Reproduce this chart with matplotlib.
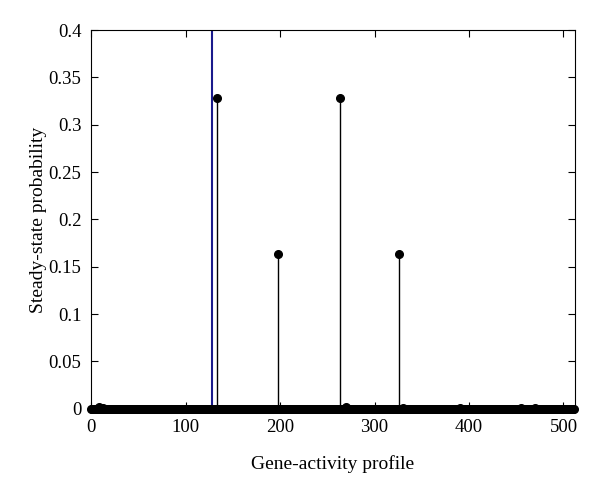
import numpy as np
import matplotlib
matplotlib.use("Agg")
import matplotlib.pyplot as plt

plt.rcParams['font.family'] = ['Liberation Serif', 'DejaVu Serif']

# gene-activity profiles 0..511, mostly zero probability
n_profiles = 512
peak_profiles = [133, 198, 263, 326]
peak_probs = [0.328, 0.164, 0.328, 0.164]
small_profiles = [8, 12, 270, 330, 390, 455, 470]
small_probs = [0.002, 0.001, 0.002, 0.001, 0.001, 0.001, 0.001]
marked_profile = 128

prob = np.zeros(n_profiles)
prob[small_profiles] = small_probs
prob[peak_profiles] = peak_probs
profiles = np.arange(n_profiles)

fig = plt.figure(figsize=(6, 4.92), dpi=100)
ax = fig.add_axes([0.152, 0.169, 0.806, 0.770])

ax.axvline(marked_profile, color='#1a1a8c', lw=1.5, zorder=1)
ml, sl, bl = ax.stem(profiles, prob, linefmt='k-', markerfmt='ko', basefmt=' ')
sl.set_linewidth(1.0)
ml.set_markersize(5.5)
ml.set_clip_on(False)

ax.set_xlim(0, 512)
ax.set_ylim(0, 0.4)
ax.set_xticks([0, 100, 200, 300, 400, 500])
ax.set_yticks([0, 0.05, 0.1, 0.15, 0.2, 0.25, 0.3, 0.35, 0.4])
ax.set_yticklabels(['0', '0.05', '0.1', '0.15', '0.2', '0.25', '0.3', '0.35', '0.4'])
ax.tick_params(direction='in', top=True, right=True, labelsize=13.5, length=5, pad=7)
ax.set_xlabel('Gene-activity profile', fontsize=14, labelpad=14)
ax.set_ylabel('Steady-state probability', fontsize=14, labelpad=1)

fig.savefig('out.png', dpi=100)
